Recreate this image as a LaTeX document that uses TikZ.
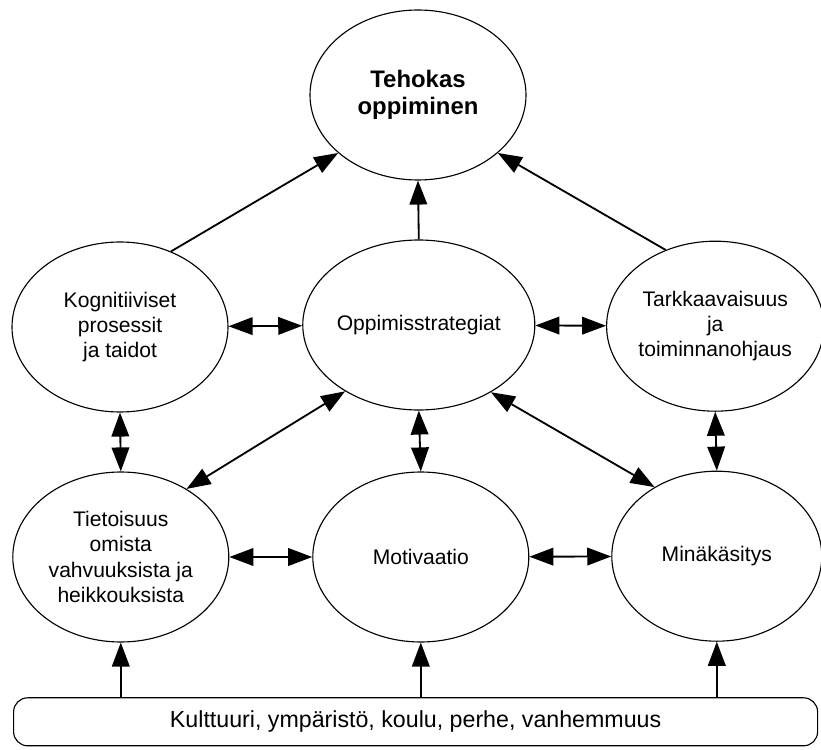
\documentclass[tikz,border=0pt]{standalone}
\usepackage{fontspec}
\setmainfont{Liberation Sans}
\usetikzlibrary{positioning, shapes.geometric, arrows.meta}

\begin{document}
\begin{tikzpicture}[
    font=\fontsize{15}{18}\selectfont,
    factor/.style={draw, ellipse, line width=0.8pt, inner sep=0pt,
                   minimum width=5.4cm, minimum height=4.25cm, align=center},
    base/.style={draw, rounded corners=10pt, line width=0.8pt,
                 minimum width=20.1cm, minimum height=1.2cm},
    one/.style={-{Triangle[length=6mm, width=4.4mm]}, line width=1.3pt},
    two/.style={{Triangle[length=6mm, width=4.4mm]}-{Triangle[length=6mm, width=4.4mm]}, line width=1.3pt},
  ]
    \useasboundingbox (0,0) rectangle (20.525,18.725);
    % ellipses
    \node[factor, font=\fontsize{17}{19.5}\selectfont\bfseries] (teh) at (10.45,16.35) {Tehokas\\oppiminen};
    \node[factor] (kog)  at (3.0,10.55)   {Kognitiiviset\\prosessit\\ja taidot};
    \node[factor] (opp)  at (10.47,10.6)  {Oppimisstrategiat};
    \node[factor, minimum width=5.25cm] (tark) at (17.88,10.57) {Tarkkaavaisuus\\ja\\toiminnanohjaus};
    \node[factor] (tiet) at (3.02,4.8)    {Tietoisuus\\omista\\vahvuuksista ja\\heikkouksista};
    \node[factor] (mot)  at (10.52,4.8)   {Motivaatio};
    \node[factor, minimum width=5.25cm] (mina) at (17.92,4.82) {Minäkäsitys};
    % background factors
    \node[base, font=\fontsize{16.5}{19}\selectfont] (kult) at (10.39,0.68) {Kulttuuri, ympäristö, koulu, perhe, vanhemmuus};
    % arrows into the top
    \draw[one] (kog.56) -- (teh.216);
    \draw[one] (opp.north) -- (teh.south);
    \draw[one] (tark.123) -- (teh.-36);
    % mutual links
    \draw[two] (kog) -- (opp);
    \draw[two] (opp) -- (tark);
    \draw[two] (tiet) -- (mot);
    \draw[two] (mot) -- (mina);
    \draw[two] (kog.south) -- (tiet.north);
    \draw[two] (opp.south) -- (mot.north);
    \draw[two] (tark.south) -- (mina.north);
    \draw[two] (opp.222) -- (tiet.46);
    \draw[two] (opp.-43) -- (mina.132);
    % from the base
    \foreach \n in {tiet,mot,mina} \draw[one] (kult.north -| \n) -- (\n.south);
\end{tikzpicture}
\end{document}
